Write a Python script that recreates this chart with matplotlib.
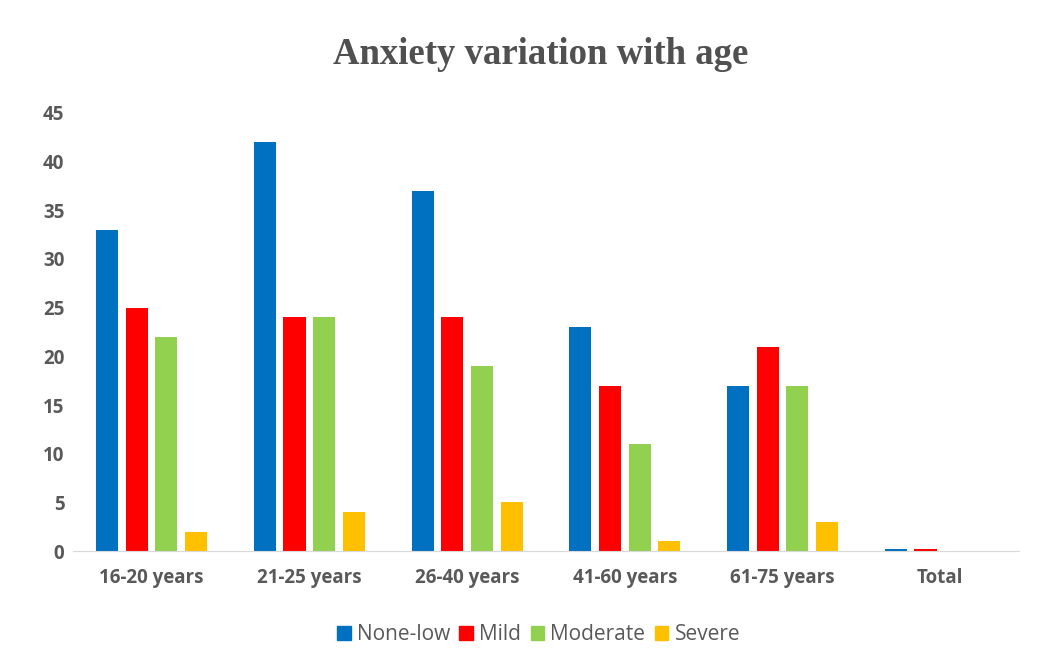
import numpy as np
import matplotlib.pyplot as plt
from matplotlib.patches import Patch

# age groups and counts per anxiety level
groups = ['16-20 years', '21-25 years', '26-40 years', '41-60 years', '61-75 years', 'Total']
none_low = [33, 42, 37, 23, 17, 0.25]
mild = [25, 24, 24, 17, 21, 0.25]
moderate = [22, 24, 19, 11, 17, 0]
severe = [2, 4, 5, 1, 3, 0]

series = [none_low, mild, moderate, severe]
names = ['None-low', 'Mild', 'Moderate', 'Severe']
colors = ['#0070C0', '#FF0000', '#92D050', '#FFC000']

fig = plt.figure(figsize=(10.54, 6.68), dpi=100)
ax = fig.add_axes([0.069, 0.175, 0.898, 0.656])

x = np.arange(len(groups))
step = 0.188
width = 0.14
for i, (vals, c) in enumerate(zip(series, colors)):
    ax.bar(x + (i - 1.5) * step, vals, width, color=c)

ax.set_xlim(-0.5, len(groups) - 0.5)
ax.set_ylim(0, 45)
ax.set_yticks(range(0, 46, 5))
ax.set_xticks(x)
ax.set_xticklabels(groups)

for s in ['top', 'right', 'left']:
    ax.spines[s].set_visible(False)
ax.spines['bottom'].set_color('#D9D9D9')
ax.tick_params(axis='both', length=0, colors='#595959', labelsize=13.5)
ax.tick_params(axis='y', pad=6)
ax.tick_params(axis='x', pad=12)
for lab in ax.get_xticklabels() + ax.get_yticklabels():
    lab.set_fontweight('bold')
    lab.set_fontfamily('Open Sans')

fig.text(0.513, 0.918, 'Anxiety variation with age', ha='center', va='center',
         fontsize=26.5, fontweight='bold', family='Liberation Serif', color='#505050')

handles = [Patch(color=c, label=n) for c, n in zip(colors, names)]
fig.legend(handles=handles, loc='center', bbox_to_anchor=(0.511, 0.05), ncol=4,
           frameon=False, handlelength=0.65, handleheight=0.65, handletextpad=0.3,
           columnspacing=0.45, prop={'family': 'Open Sans', 'size': 15}, labelcolor='#595959')

fig.savefig('out.png', dpi=100)
